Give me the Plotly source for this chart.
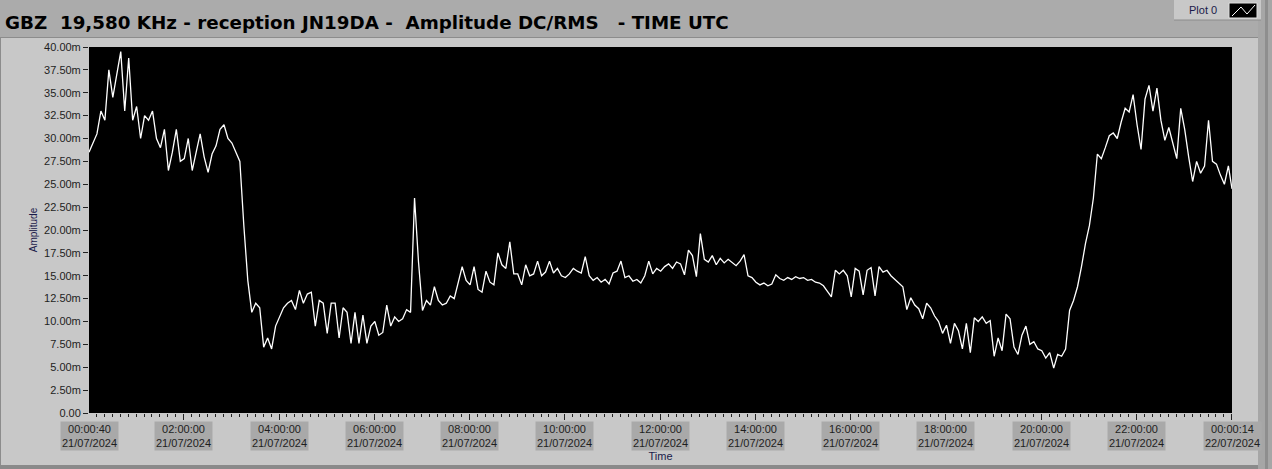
import pandas as pd
import plotly.graph_objects as go

# ---------------- data (5-minute samples) ----------------
start_time = "2024-07-21 00:00:40"
end_time = "2024-07-22 00:00:14"

amp_h00_h05 = [
    28.5, 29.5, 30.5, 33.0, 32.0, 37.5, 34.5, 37.0, 39.5, 33.0, 38.8, 32.0,   # 00h
    33.5, 30.0, 32.5, 32.0, 33.0, 30.0, 29.0, 31.0, 26.5, 28.5, 31.0, 27.5,   # 01h
    27.8, 30.0, 26.5, 28.5, 30.5, 28.0, 26.3, 28.3, 29.2, 31.0, 31.5, 30.0,   # 02h
    29.5, 28.5, 27.5, 20.5, 14.5, 11.0, 12.0, 11.5, 7.2, 8.2, 7.0, 9.5,       # 03h
    10.5, 11.5, 12.0, 12.3, 11.3, 13.4, 12.0, 13.0, 13.2, 9.5, 12.3, 12.0,    # 04h
    8.7, 12.0, 12.0, 8.2, 11.5, 11.0, 7.6, 11.0, 7.6, 10.7, 7.6, 9.5,         # 05h
]
amp_h06_h11 = [
    10.0, 8.5, 8.8, 11.8, 9.5, 10.5, 10.0, 10.3, 11.3, 11.0, 23.5, 16.5,      # 06h
    11.2, 12.3, 11.8, 13.8, 12.3, 11.8, 12.0, 12.8, 12.5, 14.2, 16.0, 14.5,   # 07h
    14.0, 16.0, 13.5, 13.2, 15.5, 14.3, 14.0, 17.5, 16.2, 15.8, 18.7, 15.2,   # 08h
    15.2, 14.0, 16.2, 15.0, 15.2, 16.6, 15.0, 15.4, 16.6, 15.3, 15.8, 15.0,   # 09h
    14.8, 15.2, 15.8, 15.5, 15.3, 17.1, 15.0, 14.5, 14.8, 14.3, 14.6, 14.1,   # 10h
    15.3, 15.5, 16.6, 14.8, 15.0, 14.4, 14.6, 14.2, 15.0, 16.6, 15.2, 15.8,   # 11h
]
amp_h12_h17 = [
    15.5, 16.0, 16.3, 15.8, 16.5, 16.3, 15.1, 17.8, 17.2, 14.9, 19.6, 16.8,   # 12h
    16.5, 17.2, 16.2, 16.9, 16.4, 16.8, 16.4, 16.1, 16.6, 17.3, 15.0, 14.8,   # 13h
    14.3, 14.0, 14.2, 13.9, 14.1, 15.1, 14.7, 14.5, 14.8, 14.6, 14.9, 14.7,   # 14h
    14.8, 14.5, 14.6, 14.3, 14.2, 13.9, 13.3, 12.7, 15.6, 15.2, 15.6, 15.0,   # 15h
    12.7, 15.8, 15.5, 12.9, 15.6, 15.9, 12.8, 16.0, 15.4, 15.6, 15.0, 14.6,   # 16h
    14.3, 13.8, 11.3, 12.6, 11.8, 11.4, 10.3, 12.0, 11.5, 10.6, 10.0, 8.7,    # 17h
]
amp_h18_h23 = [
    9.6, 7.6, 9.8, 9.0, 7.0, 9.8, 6.6, 10.4, 10.0, 10.5, 9.8, 10.1,           # 18h
    6.2, 8.2, 6.8, 10.8, 10.3, 7.2, 6.4, 8.5, 9.5, 7.5, 7.8, 7.0,             # 19h
    6.8, 6.0, 6.6, 4.9, 6.4, 6.2, 7.0, 11.2, 12.3, 13.8, 16.0, 18.5,          # 20h
    20.5, 23.5, 28.3, 27.8, 29.0, 30.3, 30.6, 30.0, 31.8, 33.3, 32.9, 34.8,   # 21h
    31.5, 28.8, 34.3, 35.8, 33.0, 35.5, 32.0, 29.8, 31.2, 29.5, 27.8, 33.3,   # 22h
    31.0, 28.0, 25.3, 27.5, 26.2, 27.0, 32.0, 27.5, 27.2, 26.0, 25.0, 27.0,   # 23h
    24.5,                                                                      # end
]
amplitude_m = amp_h00_h05 + amp_h06_h11 + amp_h12_h17 + amp_h18_h23

# x tick labels
xtick_times = ["2024-07-21 00:00:40", "2024-07-21 02:00:00", "2024-07-21 04:00:00",
               "2024-07-21 06:00:00", "2024-07-21 08:00:00", "2024-07-21 10:00:00",
               "2024-07-21 12:00:00", "2024-07-21 14:00:00", "2024-07-21 16:00:00",
               "2024-07-21 18:00:00", "2024-07-21 20:00:00", "2024-07-21 22:00:00",
               "2024-07-22 00:00:14"]
xtick_text = ["00:00:40<br>21/07/2024", "02:00:00<br>21/07/2024", "04:00:00<br>21/07/2024",
              "06:00:00<br>21/07/2024", "08:00:00<br>21/07/2024", "10:00:00<br>21/07/2024",
              "12:00:00<br>21/07/2024", "14:00:00<br>21/07/2024", "16:00:00<br>21/07/2024",
              "18:00:00<br>21/07/2024", "20:00:00<br>21/07/2024", "22:00:00<br>21/07/2024",
              "00:00:14<br>22/07/2024"]
ytick_vals = [0, 2.5, 5, 7.5, 10, 12.5, 15, 17.5, 20, 22.5, 25, 27.5, 30, 32.5, 35, 37.5, 40]
ytick_text = ["0.00", "2.50m", "5.00m", "7.50m", "10.00m", "12.50m", "15.00m", "17.50m",
              "20.00m", "22.50m", "25.00m", "27.50m", "30.00m", "32.50m", "35.00m",
              "37.50m", "40.00m"]

title_text = "GBZ\u00a0\u00a019,580 KHz - reception JN19DA -\u00a0\u00a0Amplitude DC/RMS\u00a0\u00a0\u00a0- TIME UTC"

# sampling grid: regular 5-minute samples, final sample at the end time
t0 = pd.Timestamp(start_time)
times = [t0 + pd.Timedelta(minutes=5 * i) for i in range(len(amplitude_m) - 1)]
times.append(pd.Timestamp(end_time))

# ---------------- layout geometry ----------------
W, H = 1272, 469
L, R, T, B = 89, 40, 47, 56
PW, PH = W - L - R, H - T - B


def fx(px):
    return (px - L) / PW


def fy(py):
    return (H - B - py) / PH


fig = go.Figure()
fig.add_trace(go.Scatter(x=times, y=amplitude_m, mode="lines", name="Plot 0",
                         line=dict(color="white", width=1.3), showlegend=False))

shapes = [
    # top band
    dict(type="rect", xref="paper", yref="paper", x0=fx(0), x1=fx(W), y0=fy(37), y1=fy(0),
         fillcolor="#ababab", line=dict(width=0), layer="below"),
    dict(type="line", xref="paper", yref="paper", x0=fx(0), x1=fx(1258), y0=fy(37.5), y1=fy(37.5),
         line=dict(color="#8c8c8c", width=1)),
    # right strip
    dict(type="rect", xref="paper", yref="paper", x0=fx(1258), x1=fx(W), y0=fy(H), y1=fy(0),
         fillcolor="#a6a6a6", line=dict(width=0), layer="below"),
    dict(type="rect", xref="paper", yref="paper", x0=fx(1265), x1=fx(1268), y0=fy(H), y1=fy(0),
         fillcolor="#8e8e8e", line=dict(width=0), layer="below"),
    # bottom edge
    dict(type="rect", xref="paper", yref="paper", x0=fx(0), x1=fx(1258), y0=fy(H), y1=fy(465),
         fillcolor="#8a8a8a", line=dict(width=0), layer="below"),
    # left edge
    dict(type="line", xref="paper", yref="paper", x0=fx(0.5), x1=fx(0.5), y0=fy(465), y1=fy(38),
         line=dict(color="#8c8c8c", width=1)),
    # legend box
    dict(type="rect", xref="paper", yref="paper", x0=fx(1174), x1=fx(1261), y0=fy(20), y1=fy(0),
         fillcolor="#c8c8c8", line=dict(width=0)),
    dict(type="line", xref="paper", yref="paper", x0=fx(1174), x1=fx(1261), y0=fy(20), y1=fy(20),
         line=dict(color="#8c8c8c", width=1)),
    dict(type="rect", xref="paper", yref="paper", x0=fx(1229), x1=fx(1257), y0=fy(18), y1=fy(3),
         fillcolor="black", line=dict(color="#e0e0e0", width=1)),
    dict(type="path", xref="paper", yref="paper",
         path=f"M {fx(1232)} {fy(16)} L {fx(1241)} {fy(7)} L {fx(1247)} {fy(14)} L {fx(1255)} {fy(5)}",
         line=dict(color="white", width=1)),
]

annotations = [
    dict(text=f"<b>{title_text}</b>", xref="paper", yref="paper", x=fx(3), y=fy(22),
         xanchor="left", yanchor="middle", showarrow=False,
         font=dict(family="DejaVu Sans", size=18.3, color="#000000")),
    dict(text="Plot 0", xref="paper", yref="paper", x=fx(1203), y=fy(10),
         xanchor="center", yanchor="middle", showarrow=False,
         font=dict(family="Liberation Sans", size=11, color="#1a1a4a")),
]
for tv, tt in zip(xtick_times, xtick_text):
    annotations.append(dict(text=tt, x=tv, xref="x", yref="paper", y=fy(421),
                            xanchor="center", yanchor="top", showarrow=False,
                            bgcolor="#a9a9a9", borderpad=1,
                            font=dict(family="Liberation Sans", size=11, color="#1e1e1e")))

fig.update_layout(
    width=W, height=H,
    margin=dict(l=L, r=R, t=T, b=B, autoexpand=False),
    paper_bgcolor="#c8c8c8",
    plot_bgcolor="black",
    shapes=shapes,
    annotations=annotations,
    xaxis=dict(type="date", range=[start_time, end_time], showgrid=False, zeroline=False,
               showline=False, tickmode="linear", tick0="2024-07-21 00:00:00",
               dtick=2 * 3600 * 1000, ticks="outside", ticklen=6, tickcolor="#222222",
               showticklabels=False,
               minor=dict(ticks="outside", ticklen=3, tickcolor="#222222",
                          dtick=10 * 60 * 1000, tick0="2024-07-21 00:00:00", showgrid=False),
               title=dict(text="Time", standoff=33,
                          font=dict(family="Liberation Sans", size=11, color="#1a1a4a"))),
    yaxis=dict(range=[0, 40], tickmode="array", tickvals=ytick_vals, ticktext=ytick_text,
               showgrid=False, zeroline=False, showline=False, ticks="outside", ticklen=5,
               tickcolor="#222222",
               tickfont=dict(family="Liberation Sans", size=11, color="#1e1e1e"),
               title=dict(text="Amplitude", standoff=4,
                          font=dict(family="Liberation Sans", size=10, color="#1a1a4a"))),
)

fig.write_html("out.html", config={"displayModeBar": False},
               post_script="document.body.style.margin='0px';document.body.style.overflow='hidden';")
